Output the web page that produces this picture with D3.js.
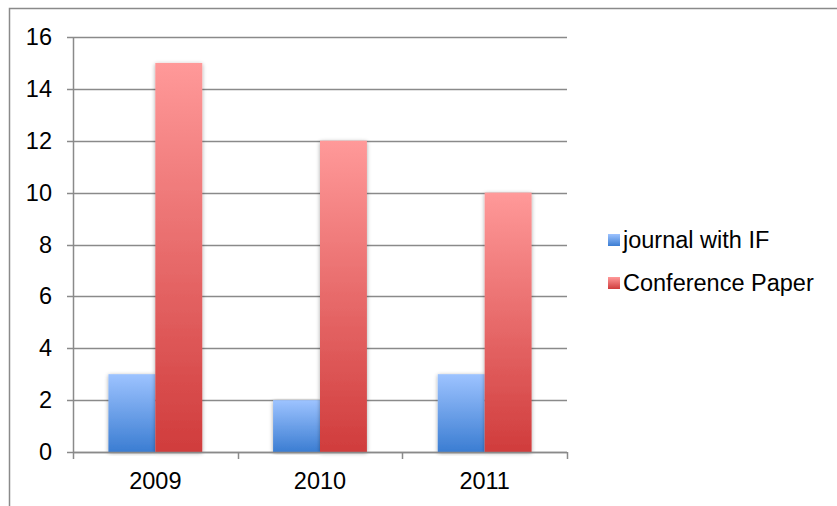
<!DOCTYPE html>
<html>
<head>
<meta charset="utf-8">
<script src="https://cdn.jsdelivr.net/npm/d3@7"></script>
<style>
  body { margin: 0; background: #fff; }
  text { font-family: "Liberation Sans", Arial, sans-serif; }
</style>
</head>
<body>
<div id="chart"></div>
<script>
// Chart data
var years = ["2009", "2010", "2011"];
var seriesNames = ["journal with IF", "Conference Paper"];
var journalValues = [3, 2, 3];
var conferenceValues = [15, 12, 10];
var yTicks = [0, 2, 4, 6, 8, 10, 12, 14, 16];

var svgWidth = 837;
var svgHeight = 506;
var fontSize = "23.5px";

var margin = { top: 37, right: 270, bottom: 54, left: 73 };
var chartWidth = 567 - margin.left;
var chartHeight = 452 - margin.top;

var svg = d3.select("#chart")
    .append("svg")
    .attr("width", svgWidth)
    .attr("height", svgHeight);

// Gradients and bar shadow
var defs = svg.append("defs");
function addGradient(id, top, bottom) {
    var g = defs.append("linearGradient")
        .attr("id", id)
        .attr("x1", 0).attr("y1", 0)
        .attr("x2", 0).attr("y2", 1);
    g.append("stop").attr("offset", "0%").attr("stop-color", top);
    g.append("stop").attr("offset", "100%").attr("stop-color", bottom);
}
addGradient("gradBlue", "#9dc3ff", "#3b7dd2");
addGradient("gradRed", "#ff9999", "#d03c3c");

var shadow = defs.append("filter").attr("id", "shadow")
    .attr("x", "-20%").attr("y", "-5%").attr("width", "140%").attr("height", "110%");
shadow.append("feGaussianBlur").attr("in", "SourceAlpha").attr("stdDeviation", 2).attr("result", "blur");
shadow.append("feOffset").attr("in", "blur").attr("dx", 0).attr("dy", 1).attr("result", "off");
shadow.append("feComponentTransfer").attr("in", "off").attr("result", "soft")
    .append("feFuncA").attr("type", "linear").attr("slope", 0.35);
var merge = shadow.append("feMerge");
merge.append("feMergeNode").attr("in", "soft");
merge.append("feMergeNode").attr("in", "SourceGraphic");

// Outer border of the chart area
svg.append("path")
    .attr("d", "M9.5," + svgHeight + " V8.5 H" + svgWidth)
    .attr("fill", "none")
    .attr("stroke", "#8a8a8a")
    .attr("stroke-width", 1.5);

var chartGroup = svg.append("g")
    .attr("transform", `translate(${margin.left}, ${margin.top})`);

var xScale = d3.scaleBand()
    .domain(years)
    .range([0, chartWidth]);

var xInner = d3.scaleBand()
    .domain(seriesNames)
    .range([0, xScale.bandwidth()])
    .paddingOuter(0.755);

var yScale = d3.scaleLinear()
    .domain([0, 16])
    .range([chartHeight, 0]);

// Gridlines
chartGroup.append("g")
    .selectAll("line")
    .data(yTicks)
    .enter().append("line")
    .attr("x1", -6)
    .attr("x2", chartWidth)
    .attr("y1", d => Math.round(yScale(d)) + 0.5)
    .attr("y2", d => Math.round(yScale(d)) + 0.5)
    .attr("stroke", "#8a8a8a")
    .attr("stroke-width", 1.5);

// Y axis labels
var leftAxis = d3.axisLeft(yScale).tickValues(yTicks).tickSize(0).tickPadding(21);
var yAxisG = chartGroup.append("g").call(leftAxis);
yAxisG.select(".domain").remove();
yAxisG.selectAll("text")
    .attr("font-size", fontSize)
    .attr("fill", "#000")
    .style("font-family", "'Liberation Sans', Arial, sans-serif");

// Vertical axis line
chartGroup.append("line")
    .attr("x1", 0.5).attr("x2", 0.5)
    .attr("y1", 0).attr("y2", chartHeight)
    .attr("stroke", "#8a8a8a")
    .attr("stroke-width", 1.5);

// Bars
var rows = years.map(function(y, i) {
    return { year: y, values: [journalValues[i], conferenceValues[i]] };
});
var fills = ["url(#gradBlue)", "url(#gradRed)"];

var groups = chartGroup.selectAll(".year")
    .data(rows)
    .enter().append("g")
    .attr("class", "year")
    .attr("transform", d => `translate(${xScale(d.year)}, 0)`);

groups.selectAll("rect")
    .data(d => d.values.map((v, j) => ({ name: seriesNames[j], value: v, j: j })))
    .enter().append("rect")
    .attr("x", d => xInner(d.name))
    .attr("width", xInner.bandwidth())
    .attr("y", d => yScale(d.value))
    .attr("height", d => chartHeight - yScale(d.value))
    .attr("fill", d => fills[d.j])
    .attr("filter", "url(#shadow)");

// X axis
var bottomAxis = d3.axisBottom(xScale).tickSize(0).tickPadding(20);
var xAxisG = chartGroup.append("g")
    .attr("transform", `translate(0, ${chartHeight})`)
    .call(bottomAxis);
xAxisG.select(".domain").remove();
xAxisG.selectAll("text")
    .attr("font-size", fontSize)
    .attr("fill", "#000")
    .style("font-family", "'Liberation Sans', Arial, sans-serif");

chartGroup.append("line")
    .attr("x1", 0).attr("x2", chartWidth)
    .attr("y1", chartHeight + 0.5).attr("y2", chartHeight + 0.5)
    .attr("stroke", "#8a8a8a")
    .attr("stroke-width", 1.5);

// category boundary ticks
chartGroup.append("g")
    .selectAll("line")
    .data(years.map(y => xScale(y)).concat([chartWidth]))
    .enter().append("line")
    .attr("x1", d => Math.round(d) + 0.5)
    .attr("x2", d => Math.round(d) + 0.5)
    .attr("y1", chartHeight)
    .attr("y2", chartHeight + 7)
    .attr("stroke", "#8a8a8a")
    .attr("stroke-width", 1.5);

// Legend
var legend = svg.append("g")
    .attr("transform", "translate(608, 234)");

var legendItems = legend.selectAll("g")
    .data(seriesNames)
    .enter().append("g")
    .attr("transform", (d, i) => `translate(0, ${i * 43})`);

legendItems.append("rect")
    .attr("width", 12)
    .attr("height", 12)
    .attr("fill", (d, i) => fills[i]);

legendItems.append("text")
    .attr("x", 15)
    .attr("y", 14)
    .attr("font-size", fontSize)
    .attr("fill", "#000")
    .text(d => d);
</script>
</body>
</html>
